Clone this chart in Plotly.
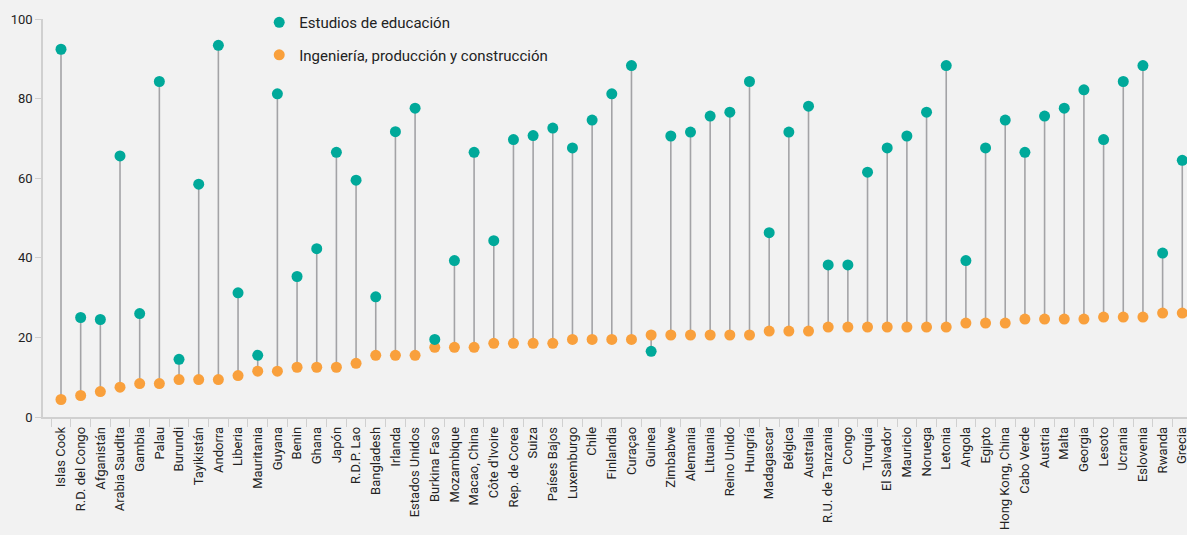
import plotly.graph_objects as go

countries = ["Islas Cook", "R.D. del Congo", "Afganistán", "Arabia Saudita", "Gambia", "Palau",
             "Burundi", "Tayikistán", "Andorra", "Liberia", "Mauritania", "Guyana", "Benin", "Ghana",
             "Japón", "R.D.P. Lao", "Bangladesh", "Irlanda", "Estados Unidos", "Burkina Faso",
             "Mozambique", "Macao, China", "Côte d'Ivoire", "Rep. de Corea", "Suiza", "Países Bajos",
             "Luxemburgo", "Chile", "Finlandia", "Curaçao", "Guinea", "Zimbabwe", "Alemania",
             "Lituania", "Reino Unido", "Hungría", "Madagascar", "Bélgica", "Australia",
             "R.U. de Tanzania", "Congo", "Turquía", "El Salvador", "Mauricio", "Noruega", "Letonia",
             "Angola", "Egipto", "Hong Kong, China", "Cabo Verde", "Austria", "Malta", "Georgia",
             "Lesoto", "Ucrania", "Eslovenia", "Rwanda", "Grecia"]

educacion = [92.4, 25.0, 24.5, 65.6, 26.0, 84.3, 14.5, 58.5, 93.4, 31.2, 15.5, 81.2, 35.3, 42.3,
             66.5, 59.5, 30.2, 71.7, 77.6, 19.5, 39.3, 66.5, 44.3, 69.7, 70.7, 72.6, 67.6, 74.6,
             81.2, 88.3, 16.5, 70.6, 71.6, 75.6, 76.6, 84.3, 46.3, 71.6, 78.1, 38.2, 38.2, 61.5,
             67.6, 70.6, 76.6, 88.3, 39.3, 67.6, 74.6, 66.5, 75.6, 77.6, 82.2, 69.7, 84.3, 88.3,
             41.2, 64.5]

ingenieria = [4.4, 5.4, 6.4, 7.5, 8.4, 8.4, 9.4, 9.4, 9.4, 10.4, 11.5, 11.5, 12.5, 12.5,
              12.5, 13.5, 15.5, 15.5, 15.5, 17.5, 17.5, 17.5, 18.5, 18.5, 18.5, 18.5, 19.5, 19.5,
              19.5, 19.5, 20.6, 20.6, 20.6, 20.6, 20.6, 20.6, 21.6, 21.6, 21.6, 22.6, 22.6, 22.6,
              22.6, 22.6, 22.6, 22.6, 23.6, 23.6, 23.6, 24.6, 24.6, 24.6, 24.6, 25.1, 25.1, 25.1,
              26.1, 26.1]

y_ticks = [0, 20, 40, 60, 80, 100]

TEAL = "#00a99a"
ORANGE = "#f9a03c"
STEM = "#a3a3a6"
BG = "#f2f2f2"
FONT = "Roboto, Lato, sans-serif"

stem_x, stem_y = [], []
for c, a, b in zip(countries, ingenieria, educacion):
    stem_x += [c, c, None]
    stem_y += [a, b, None]

fig = go.Figure()
fig.add_trace(go.Scatter(x=stem_x, y=stem_y, mode="lines",
                         line=dict(color=STEM, width=1.6),
                         showlegend=False, hoverinfo="skip"))
fig.add_trace(go.Scatter(x=countries, y=ingenieria, mode="markers",
                         name="Ingeniería, producción y construcción",
                         marker=dict(color=ORANGE, size=11), legendgroup="b", legendrank=2))
fig.add_trace(go.Scatter(x=countries, y=educacion, mode="markers",
                         name="Estudios de educación",
                         marker=dict(color=TEAL, size=11), legendgroup="a", legendrank=1))

n = len(countries)
fig.update_layout(
    width=1187, height=535,
    paper_bgcolor=BG, plot_bgcolor=BG,
    margin=dict(l=43, r=0, t=19, b=118),
    font=dict(family=FONT, color="#333333", size=13),
    legend=dict(x=0.189, y=1.0325, xanchor="left", yanchor="top",
                bgcolor="rgba(0,0,0,0)", font=dict(size=15, color="#222222"),
                traceorder="grouped", tracegroupgap=10, itemwidth=30),
    xaxis=dict(type="category", categoryorder="array", categoryarray=countries,
               range=[-0.915, n - 1 + 0.24], tickangle=-90, automargin=False,
               showline=True, linecolor="#d0d0d0", linewidth=1.5,
               ticks="outside", tickson="boundaries", ticklen=8, tickcolor="#d0d0d0",
               ticklabelstandoff=3,
               showgrid=False, zeroline=False,
               tickfont=dict(size=13, color="#222222")),
    yaxis=dict(range=[0, 100], tickvals=y_ticks, showline=True, linecolor="#d0d0d0",
               linewidth=1.5, ticks="outside", ticklen=6, tickcolor="#d0d0d0",
               showgrid=False, zeroline=False, automargin=False,
               tickfont=dict(size=13, color="#222222")),
)

fig.write_html("out.html", config={"displayModeBar": False},
               post_script="document.body.style.margin='0';document.body.style.overflow='hidden';")
